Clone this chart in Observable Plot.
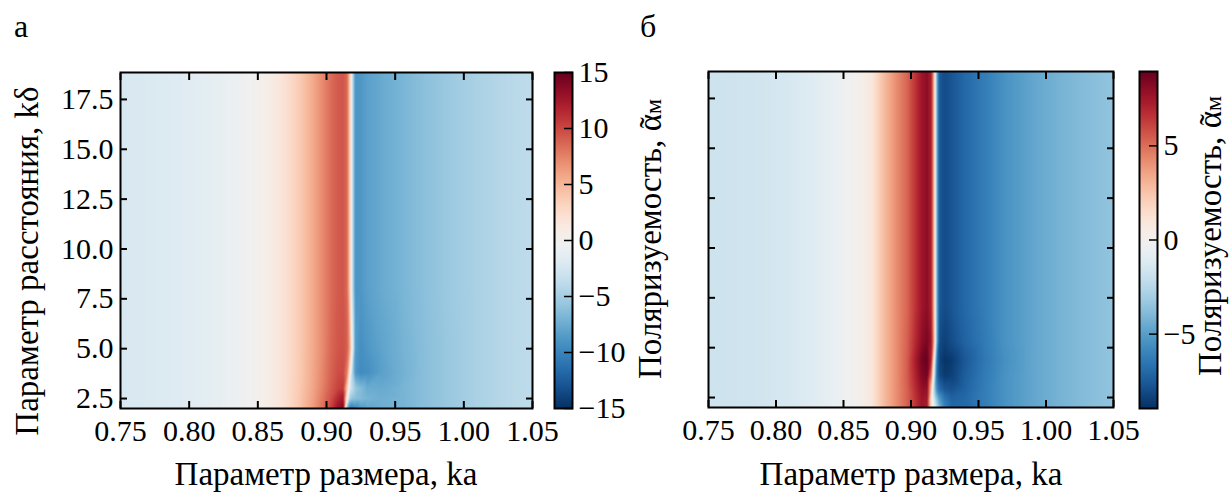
<!DOCTYPE html>
<html><head><meta charset="utf-8">
<script src="https://cdn.jsdelivr.net/npm/d3@7"></script>
<script src="https://cdn.jsdelivr.net/npm/@observablehq/plot@0.6"></script>
<style>
body{margin:0;background:#fff;}
#root{position:relative;width:1232px;height:492px;overflow:hidden;background:#fff;font-family:"Liberation Serif","Times New Roman",serif;color:#000;}
.lbl{position:absolute;white-space:nowrap;line-height:1;font-family:"Liberation Serif","Times New Roman",serif;}
.sub{font-size:0.72em;}
.til{position:relative;display:inline-block;}
.til>.t{position:absolute;left:0;width:100%;text-align:center;top:0.06em;}
</style></head><body><div id="root"></div>
<script>
// ---- data ----
const kaGrid = [0.75, 0.78, 0.81, 0.83, 0.845, 0.86, 0.87, 0.88, 0.89, 0.897, 0.903, 0.908, 0.912, 0.915, 0.917, 0.919, 0.921, 0.925, 0.93, 0.94, 0.955, 0.97, 0.99, 1.01, 1.03, 1.05];
const kdDomain = [2.0, 18.85];
const kaDomain = [0.75, 1.05];
const kaTicks = [0.75, 0.80, 0.85, 0.90, 0.95, 1.00, 1.05];
const kdTicks = [2.5, 5.0, 7.5, 10.0, 12.5, 15.0, 17.5];

// panel а (rows of kδ, values at kaGrid)
const kdRowsA = [18.85, 8.0, 5.0, 3.8, 3.0, 2.5, 2.0];
const aRow18_85 = [-2.3, -2.0, -1.5, -0.9, -0.2, 1.0, 2.2, 3.7, 5.6, 7.1, 8.4, 9.2, 9.4, 8.5, 4.0, -4.0, -9.0, -8.8, -8.2, -7.6, -6.9, -6.2, -5.4, -4.8, -4.2, -3.8];
const aRow8_0   = [-2.3, -2.0, -1.5, -0.9, -0.2, 1.0, 2.2, 3.7, 5.6, 7.1, 8.4, 9.2, 9.4, 8.5, 4.0, -4.0, -9.0, -8.8, -8.2, -7.6, -6.9, -6.2, -5.4, -4.8, -4.2, -3.8];
const aRow5_0   = [-2.3, -2.0, -1.5, -0.9, -0.2, 1.0, 2.2, 3.7, 5.6, 7.1, 8.6, 9.4, 9.6, 9.0, 6.0, -1.5, -8.5, -9.3, -8.8, -8.0, -7.1, -6.3, -5.5, -4.8, -4.2, -3.8];
const aRow3_8   = [-2.3, -2.0, -1.5, -0.9, -0.2, 1.0, 2.2, 3.7, 5.7, 7.3, 8.8, 9.7, 9.9, 7.5, 1.5, -5.0, -8.8, -9.6, -9.3, -8.2, -7.2, -6.3, -5.5, -4.8, -4.2, -3.8];
const aRow3_0   = [-2.3, -2.0, -1.5, -0.9, -0.2, 1.0, 2.2, 3.8, 5.8, 7.5, 9.1, 10.2, 10.6, 4.0, -2.0, -4.0, -5.5, -6.5, -7.5, -7.6, -7.0, -6.3, -5.5, -4.8, -4.2, -3.8];
const aRow2_5   = [-2.3, -2.0, -1.5, -0.9, -0.2, 1.0, 2.2, 3.9, 6.0, 7.9, 9.6, 11.5, 12.5, 1.0, -5.0, -6.0, -6.3, -6.5, -7.0, -7.3, -7.0, -6.3, -5.5, -4.8, -4.2, -3.8];
const aRow2_0   = [-2.3, -2.0, -1.5, -0.9, -0.2, 1.0, 2.2, 4.0, 6.2, 8.2, 10.3, 13.0, 14.0, -7.0, -10.5, -10.5, -9.8, -8.5, -7.8, -7.3, -7.0, -6.3, -5.5, -4.8, -4.2, -3.8];
const valuesA = [aRow18_85, aRow8_0, aRow5_0, aRow3_8, aRow3_0, aRow2_5, aRow2_0];
const colorDomainA = [-15, 15];
const cbTicksA = [-15, -10, -5, 0, 5, 10, 15];

// panel б
const kdRowsB = [18.85, 7.0, 5.3, 4.4, 3.6, 2.9, 2.4, 2.0];
const bRow18_85 = [-1.8, -1.7, -1.4, -1.0, -0.5, 0.1, 0.8, 2.8, 4.3, 5.2, 6.5, 7.6, 8.0, 7.2, 3.0, -4.0, -7.6, -8.0, -7.7, -7.0, -6.2, -5.4, -4.7, -4.2, -3.8, -3.5];
const bRow7_0   = [-1.8, -1.7, -1.4, -1.0, -0.5, 0.1, 0.8, 2.8, 4.3, 5.2, 6.5, 7.6, 8.0, 7.2, 3.0, -4.0, -7.6, -8.0, -7.7, -7.0, -6.2, -5.4, -4.7, -4.2, -3.8, -3.5];
const bRow5_3   = [-1.8, -1.7, -1.4, -1.0, -0.5, 0.1, 0.8, 2.8, 4.3, 5.3, 6.8, 8.0, 8.5, 7.6, 3.5, -4.0, -8.0, -8.4, -8.0, -7.2, -6.3, -5.4, -4.7, -4.2, -3.8, -3.5];
const bRow4_4   = [-1.8, -1.7, -1.4, -1.0, -0.5, 0.1, 0.8, 2.8, 4.3, 5.4, 7.2, 8.6, 8.9, 7.0, 1.0, -6.0, -8.3, -8.8, -8.6, -7.6, -6.4, -5.5, -4.7, -4.2, -3.8, -3.5];
const bRow3_6   = [-1.8, -1.7, -1.4, -1.0, -0.5, 0.1, 0.8, 2.8, 4.3, 5.4, 7.0, 8.3, 8.6, 5.0, -1.0, -6.5, -8.0, -8.6, -8.4, -7.4, -6.3, -5.4, -4.7, -4.2, -3.8, -3.5];
const bRow2_9   = [-1.8, -1.7, -1.4, -1.0, -0.5, 0.1, 0.8, 2.8, 4.3, 5.3, 6.7, 7.8, 7.8, 2.5, -2.5, -5.5, -6.8, -7.6, -7.8, -7.2, -6.2, -5.4, -4.7, -4.2, -3.8, -3.5];
const bRow2_4   = [-1.8, -1.7, -1.4, -1.0, -0.5, 0.1, 0.8, 2.8, 4.3, 5.3, 6.5, 7.6, 7.4, 1.0, -1.5, -3.5, -5.0, -6.5, -7.2, -7.0, -6.2, -5.4, -4.7, -4.2, -3.8, -3.5];
const bRow2_0   = [-1.8, -1.7, -1.4, -1.0, -0.5, 0.1, 0.8, 2.8, 4.3, 5.3, 6.5, 7.6, 7.3, 1.5, -0.8, -2.5, -4.0, -6.0, -7.0, -7.0, -6.2, -5.4, -4.7, -4.2, -3.8, -3.5];
const valuesB = [bRow18_85, bRow7_0, bRow5_3, bRow4_4, bRow3_6, bRow2_9, bRow2_4, bRow2_0];
const colorDomainB = [-8.95, 8.95];
const cbTicksB = [-5, 0, 5];

// ---- build ----
function table(rows, values) {
  const out = [];
  rows.forEach((kd, i) => values[i].forEach((v, j) => out.push({ka: kaGrid[j], kd, v})));
  return out;
}
const root = document.getElementById("root");
const FONT = '"Liberation Serif","Times New Roman",serif';
function place(svg, left, top) {
  svg.style.position = "absolute";
  svg.style.left = left + "px";
  svg.style.top = top + "px";
  svg.style.background = "transparent";
  svg.style.overflow = "visible";
  svg.style.maxWidth = "none";
  root.appendChild(svg);
}
const noText = () => "";
function heat(data, colorDomain, {width, mL, mR, mT, mB, yLabels}) {
  return Plot.plot({
    width, height: 492, marginLeft: mL, marginRight: mR, marginTop: mT, marginBottom: mB,
    style: {fontFamily: FONT, fontSize: "30px", background: "transparent", overflow: "visible"},
    x: {domain: kaDomain, axis: null},
    y: {domain: kdDomain, axis: null},
    color: {type: "linear", scheme: "rdbu", reverse: true, domain: colorDomain},
    marks: [
      Plot.raster(data, {x: "ka", y: "kd", fill: "v", interpolate: "barycentric",
        x1: kaDomain[0], x2: kaDomain[1], y1: kdDomain[0], y2: kdDomain[1]}),
      Plot.frame({stroke: "black", strokeWidth: 2}),
      Plot.axisX(kaTicks, {anchor: "bottom", tickSize: -7, tickPadding: 18, strokeWidth: 2, tickFormat: d3.format(".2f"), label: null}),
      Plot.axisX(kaTicks, {anchor: "top", tickSize: -7, strokeWidth: 2, tickFormat: noText, label: null}),
      Plot.axisY(kdTicks, {anchor: "left", tickSize: -7, tickPadding: 14, strokeWidth: 2, tickFormat: yLabels ? d3.format(".1f") : noText, label: null}),
      Plot.axisY(kdTicks, {anchor: "right", tickSize: -7, strokeWidth: 2, tickFormat: noText, label: null})
    ]
  });
}
function colorbar(colorDomain, ticks, {width, mL, mR, mT, mB}) {
  return Plot.plot({
    width, height: 492, marginLeft: mL, marginRight: mR, marginTop: mT, marginBottom: mB,
    style: {fontFamily: FONT, fontSize: "30px", background: "transparent", overflow: "visible"},
    x: {domain: [0, 1], axis: null},
    y: {domain: colorDomain, axis: null},
    color: {type: "linear", scheme: "rdbu", reverse: true, domain: colorDomain},
    marks: [
      Plot.raster({fill: (x, y) => y, x1: 0, x2: 1, y1: colorDomain[0], y2: colorDomain[1]}),
      Plot.frame({stroke: "black", strokeWidth: 2}),
      Plot.axisY(ticks, {anchor: "right", tickSize: -9, tickPadding: 15, strokeWidth: 1.5, tickFormat: d3.format("d"), label: null})
    ]
  });
}

place(heat(table(kdRowsA, valuesA), colorDomainA, {width: 545, mL: 120, mR: 13, mT: 72, mB: 84, yLabels: true}), 0, 0);
place(colorbar(colorDomainA, cbTicksA, {width: 95, mL: 9, mR: 68, mT: 72, mB: 84}), 545, 0);
place(heat(table(kdRowsB, valuesB), colorDomainB, {width: 445, mL: 28, mR: 12, mT: 71, mB: 85, yLabels: false}), 680, 0);
place(colorbar(colorDomainB, cbTicksB, {width: 75, mL: 14, mR: 43, mT: 71, mB: 84}), 1125, 0);

// ---- text labels ----
function label(html, {x, baseline, size = 33, anchor = "middle"}) {
  const d = document.createElement("div");
  d.className = "lbl";
  d.style.fontSize = size + "px";
  d.innerHTML = html;
  d.style.top = (baseline - 0.8375 * size) + "px";
  d.style.left = x + "px";
  if (anchor === "middle") d.style.transform = "translateX(-50%)";
  root.appendChild(d);
}
function vlabel(html, {cx, cy, size = 33}) {
  const d = document.createElement("div");
  d.className = "lbl";
  d.style.fontSize = size + "px";
  d.innerHTML = html;
  d.style.left = cx + "px";
  d.style.top = cy + "px";
  d.style.transform = "translate(-50%,-50%) rotate(-90deg)";
  root.appendChild(d);
}
const polLabel = 'Поляризуемость, <span class="til">α<span class="t">˜</span></span><span class="sub">м</span>';
label("а", {x: 14, baseline: 36.5, size: 32, anchor: "start"});
label("б", {x: 640, baseline: 37, size: 32, anchor: "start"});
label("Параметр размера, ka", {x: 326, baseline: 486});
label("Параметр размера, ka", {x: 911, baseline: 486});
vlabel("Параметр расстояния, kδ", {cx: 27, cy: 261});
vlabel(polLabel, {cx: 650, cy: 239});
vlabel(polLabel, {cx: 1210, cy: 236});
</script></body></html>
